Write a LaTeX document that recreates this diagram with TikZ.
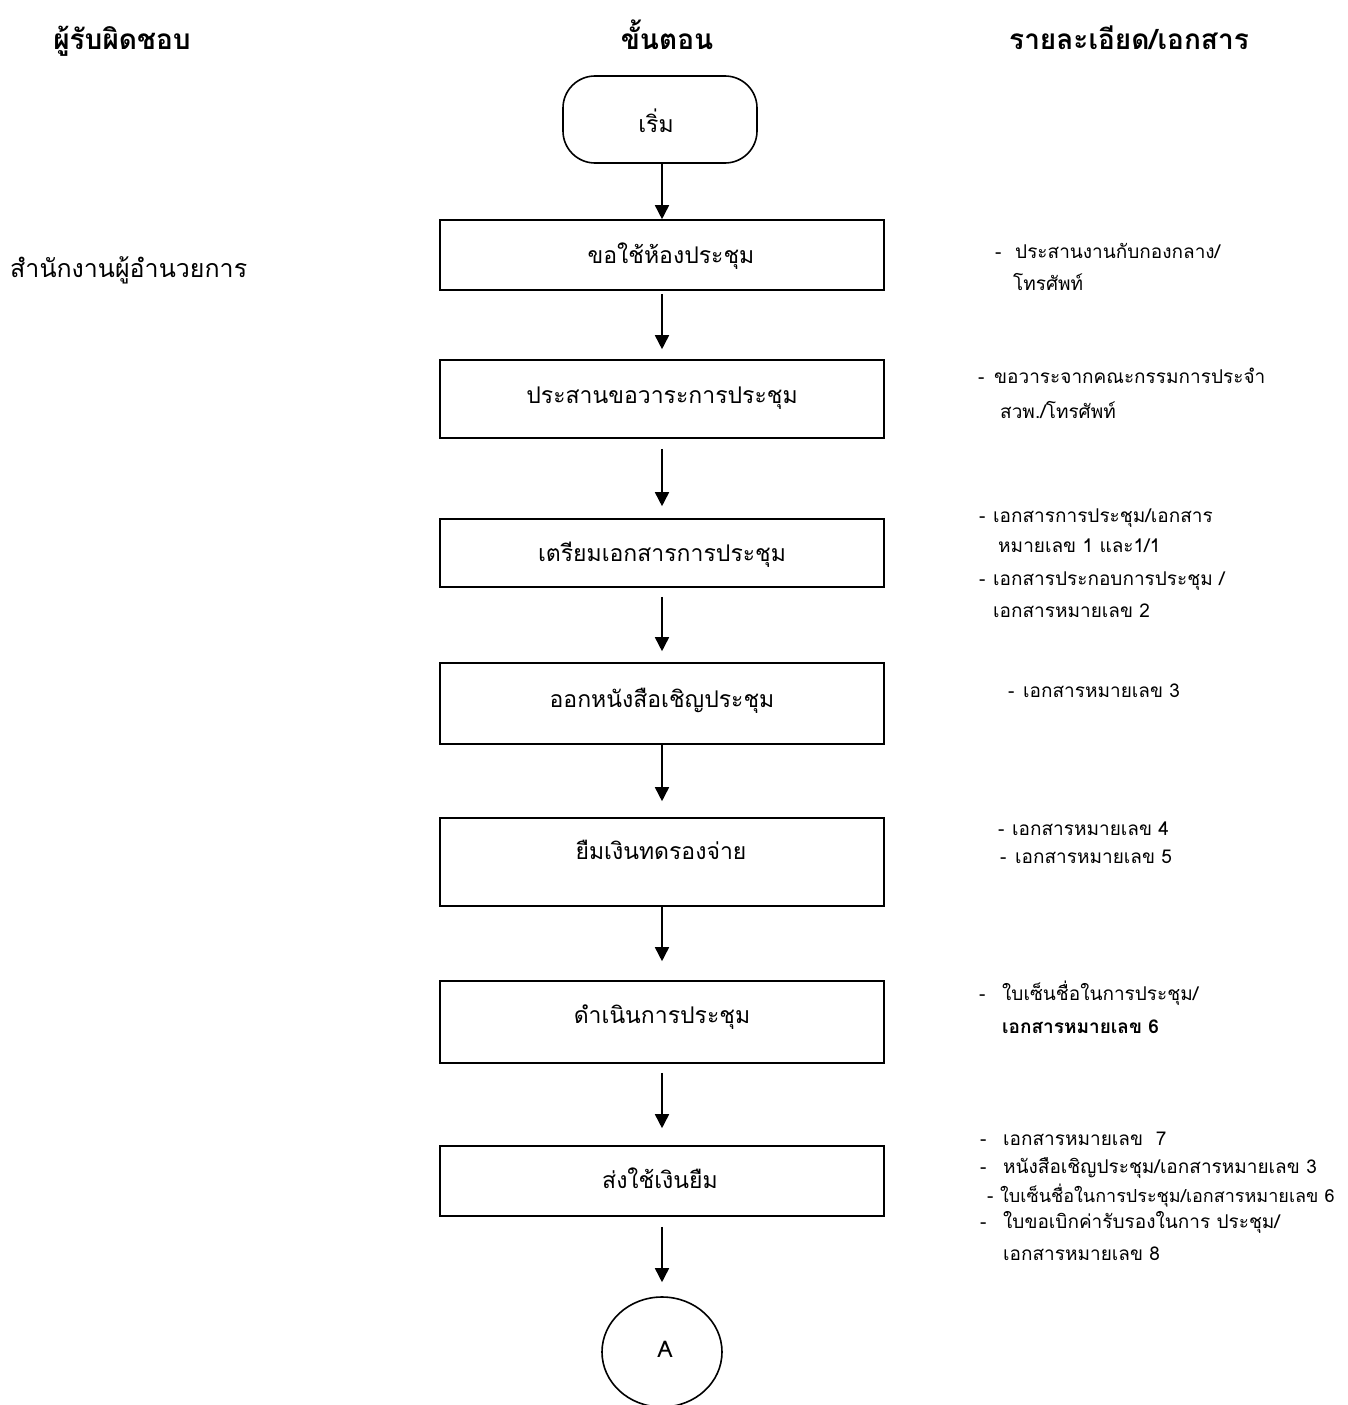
\documentclass[tikz,border=0pt]{standalone}
\usepackage{fontspec}
\usetikzlibrary{arrows.meta,shapes.geometric}
\newfontfamily\thai[Script=Thai]{Loma}
\begin{document}
\begin{tikzpicture}[x=1pt,y=-1pt,
  box/.style={draw,line width=1.6pt,minimum width=444pt,inner sep=0pt},
  term/.style={draw,line width=1.6pt,rounded corners=32pt,minimum width=194pt,minimum height=87pt,inner sep=0pt},
  conn/.style={draw,line width=1.6pt,ellipse,minimum width=120pt,minimum height=110pt,inner sep=0pt},
  arr/.style={line width=1.6pt,-{Triangle[length=14pt,width=14pt]}},
  hdr/.style={anchor=base,font=\thai\bfseries\fontsize{28}{32}\selectfont,inner sep=0pt},
  btxt/.style={anchor=base,font=\thai\fontsize{23}{28}\selectfont,inner sep=0pt},
  ltxt/.style={anchor=base west,font=\thai\fontsize{25}{30}\selectfont,inner sep=0pt},
  rtxt/.style={anchor=base west,font=\thai\fontsize{19}{23}\selectfont,inner sep=0pt},
]
\useasboundingbox (0,0) rectangle (1347,1405);
\clip (0,0) rectangle (1347,1405);

% headers
\node[hdr] (h1) at (122,50) {ผู้รับผิดชอบ};
\node[hdr] (h2) at (667,50) {ขั้นตอน};
\node[hdr] (h3) at (1129,50) {รายละเอียด/เอกสาร};

% responsible
\node[ltxt] (resp) at (10,277) {สำนักงานผู้อำนวยการ};

% flow shapes
\node[term] (start) at (660,119.5) {};
\node[box,minimum height=70pt] (b1) at (662,255) {};
\node[box,minimum height=78pt] (b2) at (662,399) {};
\node[box,minimum height=68pt] (b3) at (662,553) {};
\node[box,minimum height=81pt] (b4) at (662,703.5) {};
\node[box,minimum height=88pt] (b5) at (662,862) {};
\node[box,minimum height=82pt] (b6) at (662,1022) {};
\node[box,minimum height=70pt] (b7) at (662,1181) {};
\node[conn] (endA) at (662,1352) {};

% flow texts
\node[btxt] (ts) at (656,132) {เริ่ม};
\node[btxt] (t1) at (671,263) {ขอใช้ห้องประชุม};
\node[btxt] (t2) at (662,403) {ประสานขอวาระการประชุม};
\node[btxt] (t3) at (662,561) {เตรียมเอกสารการประชุม};
\node[btxt] (t4) at (662,707) {ออกหนังสือเชิญประชุม};
\node[btxt] (t5) at (661,859) {ยืมเงินทดรองจ่าย};
\node[btxt] (t6) at (662,1023) {ดำเนินการประชุม};
\node[btxt] (t7) at (660,1188) {ส่งใช้เงินยืม};
\node[btxt] (tA) at (665,1357) {A};

% arrows
\draw[arr] (start.south -| b1.north) -- (b1.north);
\draw[arr,shorten <=3pt,shorten >=10pt] (b1.south) -- (b2.north);
\draw[arr,shorten <=10pt,shorten >=12pt] (b2.south) -- (b3.north);
\draw[arr,shorten <=9pt,shorten >=11pt] (b3.south) -- (b4.north);
\draw[arr,shorten >=16pt] (b4.south) -- (b5.north);
\draw[arr,shorten >=19pt] (b5.south) -- (b6.north);
\draw[arr,shorten <=9pt,shorten >=17pt] (b6.south) -- (b7.north);
\draw[arr,shorten <=10pt,shorten >=14pt] (b7.south) -- (endA.north);

% details
\node[rtxt] (d1) at (995,258) {-};
\node[rtxt] (r1) at (1015,258) {ประสานงานกับกองกลาง/};
\node[rtxt] (r2) at (1013,290) {โทรศัพท์};
\node[rtxt] (d3) at (978,383) {-};
\node[rtxt] (r3) at (994,383) {ขอวาระจากคณะกรรมการประจำ};
\node[rtxt] (r4) at (1000,418) {สวพ./โทรศัพท์};
\node[rtxt] (d5) at (979,522) {-};
\node[rtxt] (r5) at (993,522) {เอกสารการประชุม/เอกสาร};
\node[rtxt] (r6) at (998,552) {หมายเลข 1 และ1/1};
\node[rtxt] (d7) at (979,585) {-};
\node[rtxt] (r7) at (993,585) {เอกสารประกอบการประชุม /};
\node[rtxt] (r8) at (993,617) {เอกสารหมายเลข 2};
\node[rtxt] (d9) at (1008,697) {-};
\node[rtxt] (r9) at (1023,697) {เอกสารหมายเลข 3};
\node[rtxt] (d10) at (998,835) {-};
\node[rtxt] (r10) at (1012,835) {เอกสารหมายเลข 4};
\node[rtxt] (d11) at (1000,863) {-};
\node[rtxt] (r11) at (1015,863) {เอกสารหมายเลข 5};
\node[rtxt] (d12) at (979,1000) {-};
\node[rtxt] (r12) at (1002,1000) {ใบเซ็นชื่อในการประชุม/};
\node[rtxt,font=\thai\bfseries\fontsize{19}{23}\selectfont] (r13) at (1002,1033) {เอกสารหมายเลข 6};
\node[rtxt] (d14) at (980,1145) {-};
\node[rtxt] (r14) at (1003,1145) {เอกสารหมายเลข\ \ 7};
\node[rtxt] (d15) at (980,1173) {-};
\node[rtxt] (r15) at (1003,1173) {หนังสือเชิญประชุม/เอกสารหมายเลข 3};
\node[rtxt] (d16) at (987,1202) {-};
\node[rtxt,font=\thai\fontsize{18}{22}\selectfont] (r16) at (1000,1202) {ใบเซ็นชื่อในการประชุม/เอกสารหมายเลข 6};
\node[rtxt] (d17) at (980,1228) {-};
\node[rtxt] (r17) at (1003,1228) {ใบขอเบิกค่ารับรองในการ ประชุม/};
\node[rtxt] (r18) at (1003,1260) {เอกสารหมายเลข 8};
\end{tikzpicture}
\end{document}
